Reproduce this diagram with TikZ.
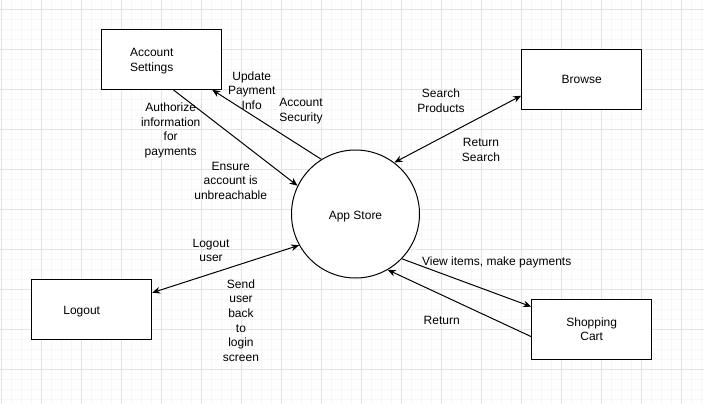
\documentclass[tikz,border=0pt]{standalone}
\usepackage{fontspec}
\setmainfont{Liberation Sans}
\usetikzlibrary{arrows.meta}
\definecolor{gridmajor}{RGB}{228,228,228}
\definecolor{gridminor}{RGB}{247,247,247}

\begin{document}
\begin{tikzpicture}[x=0.75pt,y=-0.75pt,
  line width=0.75pt,>={Stealth[length=6pt,width=5pt]},
  every node/.style={font=\fontsize{9}{10.9}\selectfont},
  box node/.style={rectangle,draw,fill=white,minimum width=90pt,minimum height=45pt,inner sep=0pt},
  store node/.style={circle,draw,fill=white,minimum size=96pt,inner sep=0pt,text height=8pt,text depth=0pt},
  flow label/.style={align=center,inner sep=0pt}]

  \useasboundingbox (0,0) rectangle (704,404);
  % grid
  \foreach \x in {1.7,11.7,...,701.7} \draw[gridminor] (\x,0) -- (\x,404);
  \foreach \y in {9.3,19.3,...,399.3} \draw[gridminor] (0,\y) -- (704,\y);
  \foreach \x in {1.7,41.7,...,681.7} \draw[gridmajor] (\x,0) -- (\x,404);
  \foreach \y in {9.3,49.3,...,369.3} \draw[gridmajor] (0,\y) -- (704,\y);

  \node[store node] (store) at (355.5,214) {App Store};
  \node[box node,label={[flow label,xshift=-7.5pt,yshift=-1.5pt]center:Account\\Settings}] (settings) at (161.7,59.3) {};
  \node[box node] (browse) at (581.7,79.3) {Browse};
  \node[box node,label={[flow label,xshift=-7.5pt,yshift=-2pt]center:Logout}] (logout) at (91.7,309.3) {};
  \node[box node,align=center] (cart) at (591.7,329.3) {Shopping\\Cart};

  \path[->]
   ([xshift=8.7pt]settings.south) edge (store.154)
   (store.122) edge ([xshift=-7.5pt]settings.south east)
   (store.316) edge ([yshift=17pt]cart.west)
   ([yshift=-5.5pt]cart.west) edge (store.300);
  \path[<->]
   ([yshift=-12.3pt]browse.west) edge (store.53)
   ([yshift=12.45pt]logout.east) edge (store.209);

  \node[flow label] (upd) at (251.7,90.5) {Update\\Payment\\Info};
  \node[flow label] (sec) at (301,111) {Account\\Security};
  \node[flow label] (auth) at (170.7,130.5) {Authorize\\information\\for\\payments};
  \node[flow label] (ens) at (230.7,180.5) {Ensure\\account is\\unbreachable};
  \node[flow label] (srch) at (441,100.5) {Search\\Products};
  \node[flow label] (rets) at (481,150) {Return\\Search};
  \node[flow label] (lgo) at (211,250.5) {Logout\\user};
  \node[flow label] (send) at (241,320.5) {Send\\user\\back\\to\\login\\screen};
  \node[flow label] (view) at (496.7,262) {View items, make payments};
  \node[flow label] (ret) at (441.7,320) {Return};
\end{tikzpicture}
\end{document}
